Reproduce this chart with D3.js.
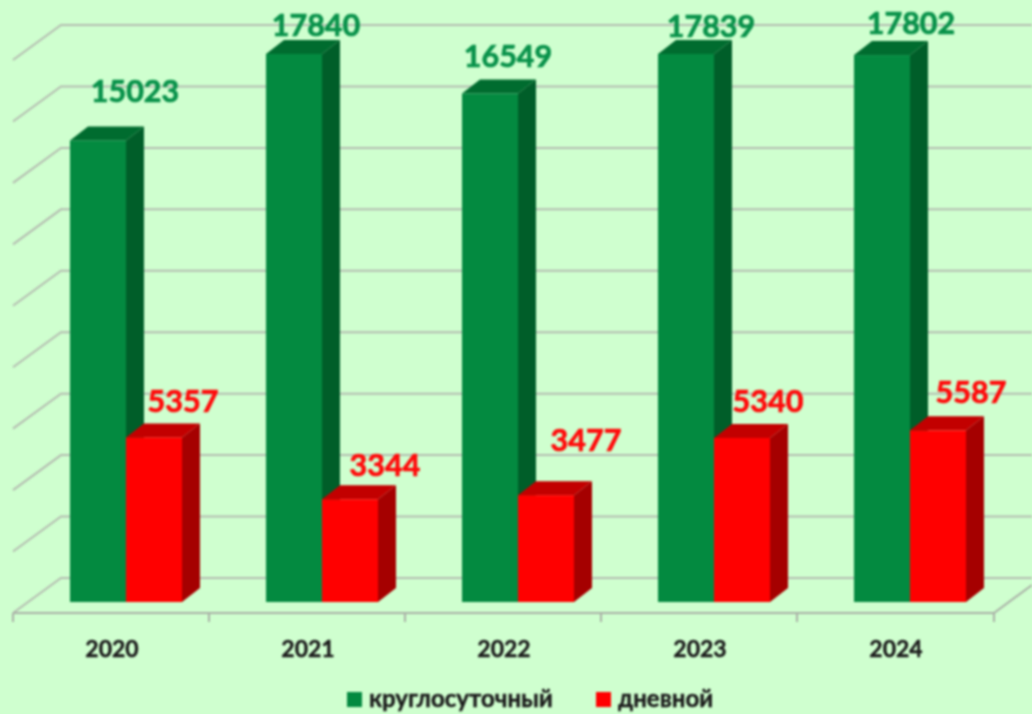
<!DOCTYPE html>
<html><head><meta charset="utf-8">
<script src="https://cdn.jsdelivr.net/npm/d3@7/dist/d3.min.js"></script>
<style>html,body{margin:0;padding:0;background:#CFFFCF;overflow:hidden}svg{display:block;filter:blur(0.8px)}text{font-family:Lato,"Open Sans",sans-serif;font-weight:700}</style>
</head><body><svg id="c" width="1032" height="714"></svg>
<script>
const years = ["2020","2021","2022","2023","2024"];
const roundClock = [15023,17840,16549,17839,17802];
const daytime = [5357,3344,3477,5340,5587];
const gridValues = [0,2000,4000,6000,8000,10000,12000,14000,16000,18000];
const seriesNames = ["круглосуточный","дневной"];
const greenShades = {front:"#038A40",side:"#005E29",top:"#006C2F",label:"#08924A"};
const redShades = {front:"#FF0000",side:"#A50000",top:"#C20000",label:"#FF0A0A"};
// manual label placement in the original (dx from bar centre, dy from bar top)
const greenLabelShift = [[28,-38],[13,-18],[9,-27],[16,-17],[20,-21]];
const redLabelShift = [[20,-25],[26,-23],[31,-44],[17,-26],[24,-27]];

const svg = d3.select("#c");
const x = d3.scaleBand().domain(years).range([13,993]);
const y = d3.scaleLinear().domain([0,18000]).range([602,49]);
const dx = 18, dy = -14, wallX = 48, wallY = -35, base = 11;
const gridCol = "#B4BCB0";
const barW = 56;

const grid = svg.append("g").attr("fill","none").attr("stroke",gridCol).attr("stroke-width",2);
gridValues.forEach(v=>{
  const yf = y(v)+base;
  grid.append("path").attr("d",d3.line()([[13,yf],[13+wallX,yf+wallY],[1032,yf+wallY]]));
});
const yFloor = y(0)+base;
grid.append("path").attr("d",d3.line()([[13,yFloor],[x.range()[1]+1,yFloor],[1032,yFloor-28]])).attr("stroke","#A9B0A6");
[...years.map(d=>x(d)),x.range()[1]+1].forEach(t=>{
  grid.append("line").attr("x1",t).attr("x2",t).attr("y1",yFloor).attr("y2",yFloor+9).attr("stroke","#A9B0A6");
});

function bars(vals,off,col){
  const g = svg.append("g");
  vals.forEach((v,i)=>{
    const l = x(years[i])+off, r = l+barW, t = y(v), b = y(0);
    g.append("polygon").attr("fill",col.side).attr("points",[[r,t],[r+dx,t+dy],[r+dx,b+dy],[r,b]].join(" "));
    g.append("polygon").attr("fill",col.top).attr("points",[[l,t],[l+dx,t+dy],[r+dx,t+dy],[r,t]].join(" "));
    g.append("rect").attr("x",l).attr("y",t).attr("width",barW).attr("height",b-t).attr("fill",col.front);
  });
}
bars(roundClock,57,greenShades);
bars(daytime,113,redShades);

function labels(vals,off,col,shift){
  svg.append("g").selectAll("text").data(vals).join("text")
    .attr("x",(v,i)=>x(years[i])+off+barW/2+dx/2+shift[i][0])
    .attr("y",(v,i)=>y(v)+shift[i][1])
    .attr("text-anchor","middle").attr("font-size",30.5).attr("fill",col.label)
    .attr("stroke",col.label).attr("stroke-width",0.7)
    .text(v=>v);
}
labels(roundClock,57,greenShades,greenLabelShift);
labels(daytime,113,redShades,redLabelShift);

svg.append("g").selectAll("text").data(years).join("text")
  .attr("x",d=>x(d)+x.bandwidth()/2+1).attr("y",657)
  .attr("text-anchor","middle").attr("font-size",23).attr("fill","#1a1a1a")
  .attr("stroke","#1a1a1a").attr("stroke-width",0.4).text(d=>d);

const legend = svg.append("g");
[[347,greenShades,369],[596,redShades,618]].forEach(([sx,c,tx],i)=>{
  legend.append("rect").attr("x",sx).attr("y",692).attr("width",15).attr("height",15).attr("fill",c.front);
  legend.append("text").attr("x",tx).attr("y",707).attr("font-size",24).attr("fill","#1a1a1a")
    .attr("stroke","#1a1a1a").attr("stroke-width",0.4).text(seriesNames[i]);
});
</script></body></html>
